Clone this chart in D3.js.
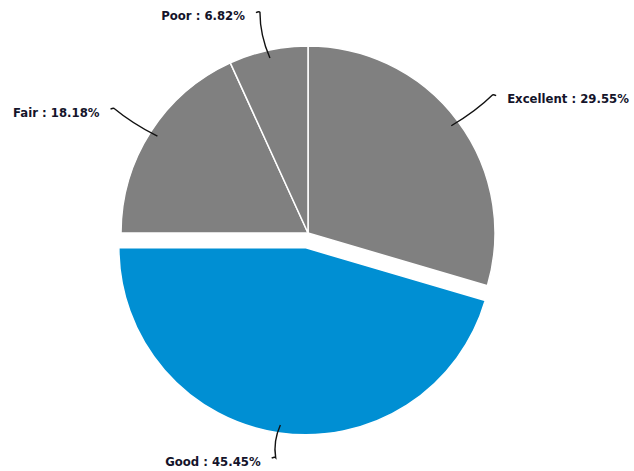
<!DOCTYPE html>
<html>
<head>
<meta charset="utf-8">
<script src="https://cdn.jsdelivr.net/npm/d3@7"></script>
<style>
  html, body { margin: 0; padding: 0; background: #fff; }
  svg { display: block; }
  .lbl { font-family: "DejaVu Sans", Verdana, sans-serif; font-weight: bold; font-size: 11.7px; fill: #14142a; }
</style>
</head>
<body>
<svg id="chart" width="634" height="471"></svg>
<script>
// Rating shares (percent)
const categories = ["Excellent", "Good", "Fair", "Poor"];
const shares = [29.55, 45.45, 18.18, 6.82];
const colors = ["#808080", "#008fd3", "#808080", "#808080"];
const exploded = ["Good"];

const W = 634, H = 471;
const cx = 308, cy = 233, R = 187, explodeDist = 15;
// how far out each leader line reaches
const leaderReach = { Excellent: 230, Good: 212, Fair: 230, Poor: 226 };

const svg = d3.select("#chart");
const g = svg.append("g").attr("transform", `translate(${cx},${cy})`);

const data = categories.map((c, i) => ({ name: c, value: shares[i], color: colors[i] }));

const pie = d3.pie().sort(null).value(d => d.value);
const arc = d3.arc().innerRadius(0).outerRadius(R);
const arcs = pie(data);

// unit vector toward a slice's middle angle
function dir(a) { const m = (a.startAngle + a.endAngle) / 2; return [Math.sin(m), -Math.cos(m)]; }
function offset(a) {
  if (!exploded.includes(a.data.name)) return [0, 0];
  const [ux, uy] = dir(a);
  return [ux * explodeDist, uy * explodeDist];
}

g.selectAll("path.slice")
  .data(arcs)
  .join("path")
  .attr("class", "slice")
  .attr("d", arc)
  .attr("fill", d => d.data.color)
  .attr("stroke", "#fff")
  .attr("stroke-width", 1.5)
  .attr("transform", d => { const [ox, oy] = offset(d); return `translate(${ox},${oy})`; });

// leader lines and labels
const rIn = 179, gap = 11;
arcs.forEach(a => {
  const rOut = leaderReach[a.data.name];
  const [ux, uy] = dir(a);
  const [ox, oy] = offset(a);
  const p0 = [ux * rIn + ox, uy * rIn + oy];
  const p2 = [ux * rOut + ox, uy * rOut + oy];
  const side = ux >= 0 ? 1 : -1;
  // bend so the line flattens out toward the label
  const c = [ux * (rIn + rOut) / 2 + ox + side * 5, uy * (rIn + rOut) / 2 + oy];
  const p3 = [p2[0] + side * 4, p2[1] + 0.5];
  const path = d3.path();
  path.moveTo(p0[0], p0[1]);
  path.quadraticCurveTo(c[0], c[1], p2[0], p2[1]);
  path.quadraticCurveTo(p2[0] + side * 1, p2[1] - 1, p3[0], p3[1]);
  g.append("path")
    .attr("d", path.toString())
    .attr("fill", "none")
    .attr("stroke", "#111")
    .attr("stroke-width", 1.4);
  g.append("text")
    .attr("class", "lbl")
    .attr("x", p3[0] + side * gap)
    .attr("y", p2[1] + 8)
    .attr("text-anchor", side > 0 ? "start" : "end")
    .text(`${a.data.name} : ${a.data.value.toFixed(2)}%`);
});
</script>
</body>
</html>
